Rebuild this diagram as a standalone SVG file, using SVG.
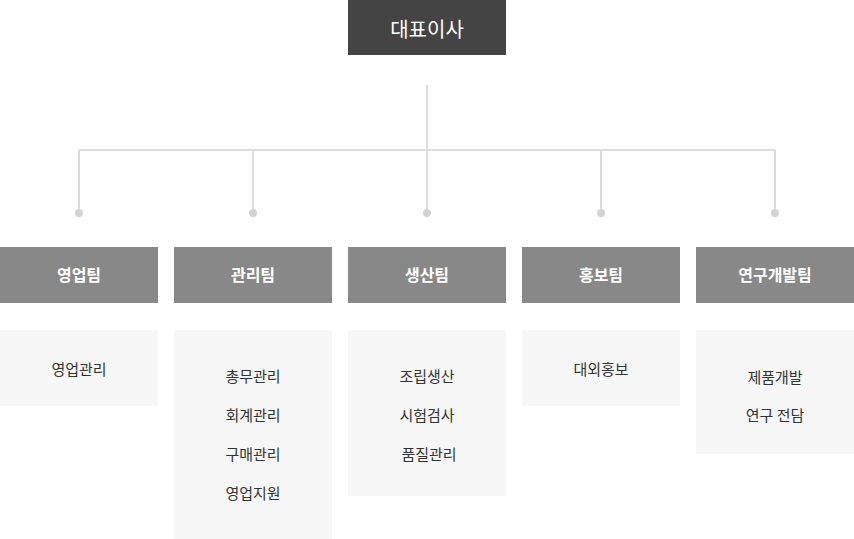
<svg xmlns="http://www.w3.org/2000/svg" width="854" height="539" viewBox="0 0 854 539">
<style>
text{font-family:"Noto Sans CJK KR","Noto Sans",sans-serif;text-anchor:middle;dominant-baseline:central}
.ceo{fill:#444444}
.ceo-t{fill:#ffffff;font-size:20px}
.team{fill:#888888}
.team-t{fill:#ffffff;font-size:16px;font-weight:bold}
.sub{fill:#f7f7f7}
.sub-t{fill:#333333;font-size:15px}
.ln{stroke:#dddddd;stroke-width:2;fill:none}
.dot{fill:#d2d2d2}
</style>
<rect width="854" height="539" fill="#ffffff"/>
<g id="connectors">
<path class="ln" d="M427 85V212M79 150H775M79 150V212M253 150V212M601 150V212M775 150V212"/>
<circle class="dot" cx="79" cy="213" r="4"/>
<circle class="dot" cx="253" cy="213" r="4"/>
<circle class="dot" cx="427" cy="213" r="4"/>
<circle class="dot" cx="601" cy="213" r="4"/>
<circle class="dot" cx="775" cy="213" r="4"/>
</g>
<g id="ceo">
<rect class="ceo" x="348" y="0" width="158" height="55"/>
<text class="ceo-t" x="427" y="28">대표이사</text>
</g>
<g id="team-sales">
<rect class="team" x="0" y="247" width="158" height="56"/>
<text class="team-t" x="79" y="274">영업팀</text>
</g>
<g id="team-admin">
<rect class="team" x="174" y="247" width="158" height="56"/>
<text class="team-t" x="253" y="274">관리팀</text>
</g>
<g id="team-prod">
<rect class="team" x="348" y="247" width="158" height="56"/>
<text class="team-t" x="427" y="274">생산팀</text>
</g>
<g id="team-pr">
<rect class="team" x="522" y="247" width="158" height="56"/>
<text class="team-t" x="601" y="274">홍보팀</text>
</g>
<g id="team-rnd">
<rect class="team" x="696" y="247" width="158" height="56"/>
<text class="team-t" x="775" y="274">연구개발팀</text>
</g>
<g id="sub-sales">
<rect class="sub" x="0" y="330" width="158" height="76"/>
<text class="sub-t" x="79" y="368">영업관리</text>
</g>
<g id="sub-admin">
<rect class="sub" x="174" y="330" width="158" height="209"/>
<text class="sub-t" x="253" y="375">총무관리</text>
<text class="sub-t" x="253" y="414">회계관리</text>
<text class="sub-t" x="253" y="453">구매관리</text>
<text class="sub-t" x="253" y="492">영업지원</text>
</g>
<g id="sub-prod">
<rect class="sub" x="348" y="330" width="158" height="166"/>
<text class="sub-t" x="427" y="375">조립생산</text>
<text class="sub-t" x="427" y="414">시험검사</text>
<text class="sub-t" x="429" y="453">품질관리</text>
</g>
<g id="sub-pr">
<rect class="sub" x="522" y="330" width="158" height="76"/>
<text class="sub-t" x="601" y="368">대외홍보</text>
</g>
<g id="sub-rnd">
<rect class="sub" x="696" y="330" width="158" height="124"/>
<text class="sub-t" x="775" y="376">제품개발</text>
<text class="sub-t" x="775" y="414">연구 전담</text>
</g>
</svg>
